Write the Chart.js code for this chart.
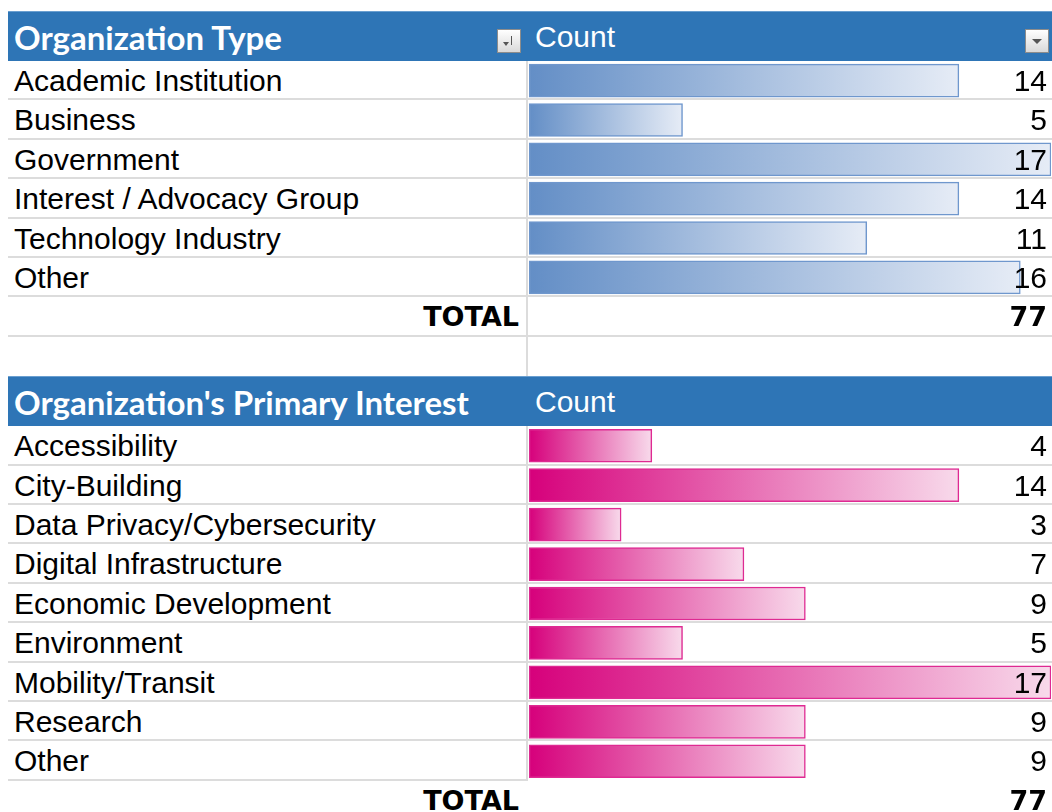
<!DOCTYPE html>
<html>
<head>
<meta charset="utf-8">
<script src="https://cdn.jsdelivr.net/npm/chart.js@4.4.1/dist/chart.umd.min.js"></script>
<style>
  body { margin: 0; background: #fff; width: 1052px; height: 812px; overflow: hidden; position: relative;
         font-family: "Liberation Sans", Arial, sans-serif; }
  .hdr { position: absolute; left: 8px; width: 1044px; background: #2E75B6; border-top: 1px solid #6a9fd0; box-sizing: border-box; }
  .hdr .title { position: absolute; left: 6px; top: 0; bottom: 0; display: flex; align-items: center;
                font-family: Lato, sans-serif; font-weight: bold; font-size: 33px; color: #fff; }
  .hdr .count { position: absolute; left: 527px; top: 1px; bottom: 0; display: flex; align-items: center;
                font-size: 30px; color: #fff; }
  .row { position: absolute; left: 8px; width: 1044px; box-sizing: border-box; border-bottom: 2px solid #dcdcdc; }
  .row.noline { border-bottom: none; }
  .lbl { position: absolute; left: 6px; top: 0; font-size: 30px; color: #000; white-space: nowrap; }
  .num { position: absolute; right: 5px; top: 0; font-size: 30px; color: #000; z-index: 3; }
  .tot { font-family: "DejaVu Sans", sans-serif; font-weight: bold; font-size: 27px; }
  .lbl.tot { left: auto; right: 533px; }
  .vline { position: absolute; left: 526px; width: 2px; background: #dcdcdc; }
  .hline { position: absolute; height: 2px; background: #dcdcdc; }
  .btn { position: absolute; width: 24px; height: 24px; box-sizing: border-box; border: 1px solid #8c8c8c;
         background: linear-gradient(#ffffff, #d9d9d9); }
  .tri { position: absolute; width: 0; height: 0; border-left: 5px solid transparent; border-right: 5px solid transparent;
         border-top: 5px solid #555; }
  .stick { position: absolute; width: 1px; height: 9px; background: #555; }
  canvas { position: absolute; z-index: 1; }
</style>
</head>
<body>
<div id="page"></div>
<canvas id="typeBars" width="522" height="236" style="left:529px; top:61px;"></canvas>
<canvas id="interestBars" width="522" height="355" style="left:529px; top:426px;"></canvas>
<script>
const typeTitle = 'Organization Type';
const typeLabels = ['Academic Institution', 'Business', 'Government', 'Interest / Advocacy Group', 'Technology Industry', 'Other'];
const typeCounts = [14, 5, 17, 14, 11, 16];

const interestTitle = "Organization's Primary Interest";
const interestLabels = ['Accessibility', 'City-Building', 'Data Privacy/Cybersecurity', 'Digital Infrastructure',
  'Economic Development', 'Environment', 'Mobility/Transit', 'Research', 'Other'];
const interestCounts = [4, 14, 3, 7, 9, 5, 17, 9, 9];

const countHeader = 'Count';
const totalLabel = 'TOTAL';
const countMax = 17;

const ROW_H = 39.4;
const HDR_H = 50;
const page = document.getElementById('page');

function add(cls, style, text) {
  const d = document.createElement('div');
  d.className = cls;
  Object.assign(d.style, style);
  if (text !== undefined) d.textContent = text;
  page.appendChild(d);
  return d;
}

function buildTable(top, title, labels, counts, withButtons, blankRow) {
  const hdr = add('hdr', { top: top + 'px', height: HDR_H + 'px' });
  const t = document.createElement('div'); t.className = 'title'; t.textContent = title; hdr.appendChild(t);
  const c = document.createElement('div'); c.className = 'count'; c.textContent = countHeader; hdr.appendChild(c);
  if (withButtons) {
    // sort button and dropdown button, like the Excel pivot header
    const b1 = add('btn', { left: '497px', top: (top + 18) + 'px', zIndex: 2 });
    b1.innerHTML = '<div class="tri" style="left:5px;top:12px;border-width:4px 3px 0 3px"></div><div class="stick" style="left:13px;top:6px"></div>';
    const b2 = add('btn', { left: '1025px', top: (top + 18) + 'px', zIndex: 2 });
    b2.innerHTML = '<div class="tri" style="left:6px;top:9px"></div>';
  }
  let y = top + HDR_H;
  const n = labels.length;
  labels.forEach((lab, i) => {
    const last = (!blankRow && i === n - 1);
    const r = add('row' + (last ? ' noline' : ''), { top: y + 'px', height: ROW_H + 'px' });
    const l = document.createElement('div'); l.className = 'lbl'; l.textContent = lab;
    l.style.lineHeight = ROW_H + 'px'; r.appendChild(l);
    const v = document.createElement('div'); v.className = 'num'; v.textContent = counts[i];
    v.style.lineHeight = ROW_H + 'px'; r.appendChild(v);
    if (last) add('hline', { left: '8px', width: '520px', top: (y + ROW_H - 2) + 'px' });
    y += ROW_H;
  });
  const total = counts.reduce((a, b) => a + b, 0);
  const tr = add('row' + (blankRow ? '' : ' noline'), { top: y + 'px', height: ROW_H + 'px' });
  const tl = document.createElement('div'); tl.className = 'lbl tot'; tl.textContent = totalLabel;
  tl.style.lineHeight = ROW_H + 'px'; tr.appendChild(tl);
  const tv = document.createElement('div'); tv.className = 'num tot'; tv.textContent = total;
  tv.style.lineHeight = ROW_H + 'px'; tr.appendChild(tv);
  let vEnd = y;
  y += ROW_H;
  if (blankRow) {
    add('row noline', { top: y + 'px', height: ROW_H + 'px' });
    y += ROW_H;
    vEnd = y;
  }
  add('vline', { top: (top + HDR_H) + 'px', height: (vEnd - top - HDR_H) + 'px' });
  return y;
}

const next = buildTable(11, typeTitle, typeLabels, typeCounts, true, true);
buildTable(next, interestTitle, interestLabels, interestCounts, false, false);

function barFill(base, light) {
  return function (ctx) {
    const chart = ctx.chart;
    if (!chart.chartArea || ctx.type !== 'data') return base;
    const x = chart.scales.x;
    const x0 = x.getPixelForValue(0);
    const x1 = x.getPixelForValue(ctx.raw);
    const g = chart.ctx.createLinearGradient(x0, 0, x1, 0);
    g.addColorStop(0, base);
    g.addColorStop(1, light);
    return g;
  };
}

function makeBars(id, labels, counts, base, light, edge) {
  return new Chart(document.getElementById(id).getContext('2d'), {
    type: 'bar',
    data: {
      labels: labels,
      datasets: [{
        data: counts,
        backgroundColor: barFill(base, light),
        borderColor: edge,
        borderWidth: 1.5,
        borderSkipped: false,
        barThickness: 33
      }]
    },
    options: {
      indexAxis: 'y',
      responsive: false,
      animation: false,
      layout: { padding: 0 },
      plugins: { legend: { display: false }, tooltip: { enabled: false } },
      scales: {
        x: { display: false, min: 0, max: countMax },
        y: { display: false }
      }
    }
  });
}

makeBars('typeBars', typeLabels, typeCounts, '#638EC6', '#E6ECF6', '#6F97CD');
makeBars('interestBars', interestLabels, interestCounts, '#D6007B', '#F8DAEB', '#DE2A92');
</script>
</body>
</html>
